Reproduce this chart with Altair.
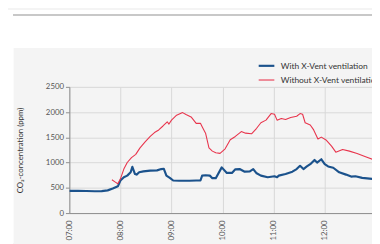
import altair as alt
import pandas as pd

# minutes after 07:00 and CO2 ppm
with_min = [0, 10, 20, 30, 38, 45, 51, 57, 60, 64, 68, 72, 74, 77, 79, 82, 87, 95, 103, 108, 111, 114, 118, 122, 129, 141, 149, 154, 156, 160, 165, 168, 172, 179, 185, 191, 195, 200, 206, 212, 216, 220, 225, 233, 241, 244, 246, 254, 262, 267, 271, 275, 279, 283, 288, 291, 296, 300, 304, 310, 317, 325, 331, 336, 344, 356, 362]
with_ppm = [440, 440, 438, 432, 435, 450, 485, 530, 645, 710, 742, 808, 917, 775, 762, 808, 827, 840, 846, 872, 878, 742, 698, 645, 640, 640, 645, 645, 742, 750, 742, 691, 691, 905, 795, 795, 866, 872, 820, 827, 872, 788, 742, 710, 730, 710, 742, 775, 820, 872, 937, 872, 924, 969, 1052, 1001, 1066, 969, 924, 898, 808, 762, 723, 730, 698, 678, 670]

without_min = [50, 54, 57, 60, 64, 68, 73, 78, 83, 89, 95, 100, 105, 110, 115, 117, 120, 126, 133, 137, 143, 149, 154, 156, 160, 164, 168, 172, 177, 183, 189, 195, 202, 207, 214, 220, 225, 231, 237, 241, 244, 249, 254, 260, 267, 271, 274, 277, 283, 287, 292, 296, 302, 308, 313, 321, 329, 338, 348, 356, 362]
without_ppm = [659, 614, 581, 678, 872, 1002, 1098, 1163, 1292, 1409, 1518, 1595, 1647, 1725, 1808, 1763, 1841, 1938, 1990, 1951, 1905, 1777, 1777, 1712, 1583, 1292, 1227, 1195, 1182, 1273, 1454, 1518, 1615, 1583, 1570, 1680, 1789, 1841, 1971, 1958, 1841, 1873, 1854, 1893, 1918, 1971, 1958, 1789, 1744, 1647, 1467, 1505, 1441, 1325, 1207, 1260, 1227, 1182, 1118, 1066, 1040]

series_names = ["With X-Vent ventilation", "Without X-Vent ventilation"]
hour_ticks = [7, 8, 9, 10, 11, 12]
y_ticks = [0, 500, 1000, 1500, 2000, 2500]

rows = []
for m, v in zip(with_min, with_ppm):
    rows.append({"hour": 7 + m / 60, "ppm": v, "series": series_names[0]})
for m, v in zip(without_min, without_ppm):
    rows.append({"hour": 7 + m / 60, "ppm": v, "series": series_names[1]})
df = pd.DataFrame(rows)

FONT = "Lato"
PANEL = "#f4f4f4"

lines = alt.Chart(df).mark_line(clip=True, strokeJoin="round").encode(
    x=alt.X("hour:Q",
            scale=alt.Scale(domain=[7, 7 + 309.3 / 52.2], nice=False, zero=False),
            axis=alt.Axis(values=hour_ticks, title=None, labelAngle=270,
                          labelAlign="right", labelBaseline="middle",
                          labelExpr="(datum.value < 10 ? '0' : '') + datum.value + ':00'",
                          ticks=False, labelPadding=7, labelFontSize=8,
                          labelColor="#555555", labelFont=FONT,
                          domainColor="#8c8c8c", domainWidth=1,
                          grid=True, gridColor="#d8d8d8", gridWidth=1)),
    y=alt.Y("ppm:Q",
            scale=alt.Scale(domain=[0, 2500], nice=False),
            axis=alt.Axis(values=y_ticks, format="d", title="CO₂-concentration (ppm)",
                          titleFont=FONT, titleFontSize=8, titleFontWeight="normal",
                          titleColor="#333333", titleX=-46, titlePadding=0,
                          labelFontSize=8, labelColor="#555555", labelFont=FONT,
                          labelPadding=2, tickSize=4, tickColor="#8c8c8c",
                          domainColor="#8c8c8c", domainWidth=1,
                          grid=True, gridColor="#d8d8d8", gridWidth=1)),
    color=alt.Color("series:N",
                    scale=alt.Scale(domain=series_names, range=["#1b528c", "#e8344c"]),
                    legend=alt.Legend(title=None, orient="none", legendX=192, legendY=-31,
                                      symbolType="stroke", symbolSize=256,
                                      symbolStrokeWidth=2, labelFont=FONT,
                                      labelFontSize=8.6, labelColor="#333333",
                                      labelOffset=5, rowPadding=-6, labelLimit=200)),
    strokeWidth=alt.StrokeWidth("series:N",
                                scale=alt.Scale(domain=series_names, range=[2.2, 1.1]),
                                legend=None),
)

top_white = alt.Chart(df).mark_rect(color="white").encode(
    x=alt.value(-62.7), x2=alt.value(320), y=alt.value(-78), y2=alt.value(-40.3))
left_white = alt.Chart(df).mark_rect(color="white").encode(
    x=alt.value(-62.7), x2=alt.value(-57.4), y=alt.value(-78), y2=alt.value(160))
top_rule = alt.Chart(df).mark_rule(color="#c8c8c8", strokeWidth=1.5).encode(
    x=alt.value(-57.4), x2=alt.value(320), y=alt.value(-73.7))

chart = alt.layer(top_white, left_white, top_rule, lines).properties(
    width=309.3, height=129,
    autosize=alt.AutoSizeParams(type="none"),
    padding={"left": 62.7, "top": 78, "right": 0, "bottom": 29},
    background=PANEL,
).configure_view(stroke=None, fill=PANEL)

chart.save("out.html", embed_options={"renderer": "svg", "actions": False})
